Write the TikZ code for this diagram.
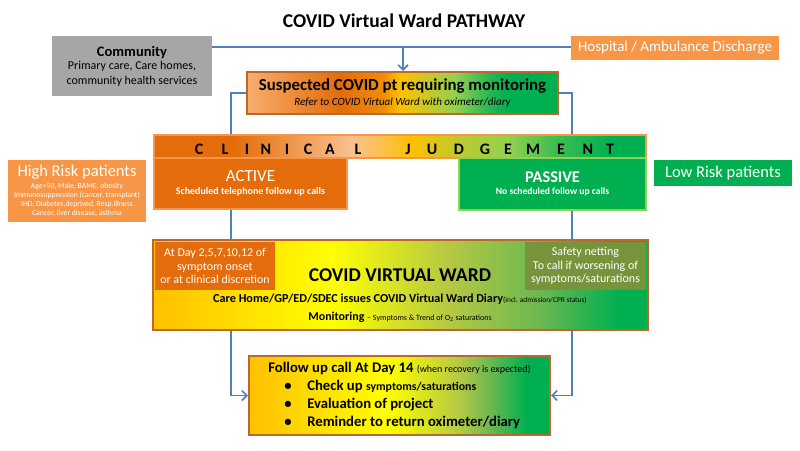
\documentclass[tikz,border=0pt]{standalone}
\usepackage{fontspec}
\setmainfont{Carlito}
\usetikzlibrary{arrows.meta,backgrounds}
\definecolor{orgdark}{HTML}{E46C0A}
\definecolor{orgmid}{HTML}{F79646}
\definecolor{orgpale}{HTML}{F8AD6E}
\definecolor{peach}{HTML}{FAC090}
\definecolor{amber}{HTML}{FFC000}
\definecolor{lime}{HTML}{92D050}
\definecolor{leaf}{HTML}{00B050}
\definecolor{olivegrn}{HTML}{B4C844}
\definecolor{greenmid}{HTML}{6CB850}
\definecolor{olivebox}{HTML}{77933C}
\definecolor{rim}{HTML}{B9692E}
\definecolor{linkblue}{HTML}{4F81BD}
\definecolor{stone}{HTML}{A6A6A6}
\newcommand\fsz[2]{\fontsize{#1}{#2}\selectfont}
\newcommand\fubullet{\hspace*{16pt}\makebox[23pt][l]{\textbullet}}
% box spans 25bp..75bp of each fill
\pgfdeclarehorizontalshading{suspfill}{100bp}{color(0bp)=(orgpale); color(25bp)=(orgpale); color(40bp)=(orgdark); color(47bp)=(orgdark!60!amber); color(49.5bp)=(amber); color(54.5bp)=(amber!45!lime); color(58.5bp)=(lime); color(64bp)=(leaf!75!lime); color(67bp)=(leaf); color(100bp)=(leaf)}
\pgfdeclarehorizontalshading{clinfill}{100bp}{color(0bp)=(orgdark); color(33bp)=(orgdark); color(45bp)=(peach); color(49bp)=(peach!40!amber); color(51bp)=(amber); color(56bp)=(amber!40!lime); color(61bp)=(lime); color(66bp)=(leaf!60!lime); color(71.5bp)=(leaf); color(100bp)=(leaf)}
\pgfdeclarehorizontalshading{vwfill}{100bp}{color(0bp)=(amber); color(25bp)=(amber); color(43bp)=(yellow); color(55bp)=(olivegrn); color(64bp)=(greenmid); color(72bp)=(leaf); color(100bp)=(leaf)}
\pgfdeclarehorizontalshading{fufill}{100bp}{color(0bp)=(amber); color(25bp)=(amber); color(48bp)=(yellow); color(60bp)=(olivegrn); color(65bp)=(greenmid); color(71bp)=(leaf); color(100bp)=(leaf)}
\begin{document}
\begin{tikzpicture}[x=1pt,y=-1pt,
  tile/.style={inner sep=0pt,align=center,text=white},
  link/.style={draw=linkblue,line width=1.6pt},
  feed/.style={link,-{Straight Barb[length=5pt,width=10pt]}}]
\useasboundingbox (0,0) rectangle (800,450);
\node[font=\fsz{19.5}{22}\bfseries,anchor=base] (title) at (404,27) {COVID Virtual Ward PATHWAY};
\node[tile,text=black,fill=stone,minimum width=160,minimum height=60,font=\fsz{12}{15}] (comm) at (132,66) {{\fsz{14.5}{15}\bfseries Community}\\[-2pt]Primary care, Care homes,\\community health services};
\node[tile,fill=orgmid,minimum width=208,minimum height=24,font=\fsz{15}{16}] (hosp) at (675,48) {Hospital / Ambulance Discharge};
\node[tile,text=black,shade,shading=suspfill,draw=rim,line width=2pt,minimum width=311,minimum height=42,font=\fsz{11}{14.3}] (susp) at (402.5,93) {{\fsz{16.8}{18}\bfseries Suspected COVID pt requiring monitoring}\\{\itshape Refer to COVID Virtual Ward with oximeter/diary}};
% clinical judgement bar
\node[tile,shade,shading=clinfill,draw=orgmid,line width=1.5pt,minimum width=492,minimum height=23] (clin) at (400,146.5) {};
\foreach \x/\ch [count=\i] in {199/C,225/L,247/I,266/N,287/I,308/C,330/A,358/L,408/J,432/U,459/D,485/G,508/E,533/M,561/E,588/N,610/T}
  \node[font=\fsz{16}{16}\bfseries,anchor=base] (cj\i) at (\x,154) {\ch};
\node[tile,fill=orgdark,draw=orgmid,line width=1.5pt,minimum width=193,minimum height=51,font=\fsz{10}{12.7}\bfseries] (act) at (250.5,183.5) {{\fsz{17}{18}\mdseries ACTIVE}\\Scheduled telephone follow up calls};
\node[tile,fill=leaf,draw=lime,line width=2pt,minimum width=187,minimum height=52,font=\fsz{9.6}{12.4}\bfseries] (pas) at (552.5,184) {{\fsz{16.3}{17}PASSIVE}\\No scheduled follow up calls};
\node[tile,fill=orgmid,minimum width=138,minimum height=62,font=\fsz{7.7}{9}] (high) at (77,191) {{\fsz{16.5}{17}High Risk patients}\\[3pt]Age>50, Male, BAME, obesity\\Immunosuppression (cancer, transplant)\\IHD, Diabetes,deprived, Resp.illness\\Cancer, liver disease, asthma};
\node[tile,fill=leaf,minimum width=138,minimum height=26,font=\fsz{16.5}{17}] (low) at (723,173) {Low Risk patients};
% virtual ward
\node[tile,shade,shading=vwfill,draw=rim,line width=2pt,minimum width=495,minimum height=90] (vw) at (400.5,285) {};
\node[tile,fill=orgdark,minimum width=120,minimum height=48,font=\fsz{12}{13.5}] (onset) at (215,266) {At Day 2,5,7,10,12 of\\symptom onset\\or at clinical discretion};
\node[tile,fill=olivebox,minimum width=121,minimum height=48,font=\fsz{12}{13.5}] (safety) at (585.5,266) {Safety netting\\To call if worsening of\\symptoms/saturations};
\node[font=\fsz{19.5}{20}\bfseries,anchor=base] (vwname) at (400,281) {COVID VIRTUAL WARD};
\node[font=\fsz{12.2}{13}\bfseries,anchor=base] (diary) at (400,302) {Care Home/GP/ED/SDEC issues COVID Virtual Ward Diary{\fsz{7.4}{8}\mdseries (incl. admission/CPR status)}};
\node[font=\fsz{12}{13}\bfseries,anchor=base] (monitor) at (400,320) {Monitoring {\fsz{8}{9}\mdseries -- Symptoms \& Trend of O\textsubscript{2} saturations}};
% follow up
\node[tile,text=black,shade,shading=fufill,draw=rim,line width=2pt,minimum width=301,minimum height=79,align=left,font=\fsz{14.7}{18}\bfseries] (fu) at (399.5,395.5) {Follow up call At Day 14 {\fsz{10}{10}\mdseries(when recovery is expected)}\\
\fubullet Check up {\fsz{11.8}{12}symptoms/saturations}\\
\fubullet Evaluation of project\\
\fubullet Reminder to return oximeter/diary};
\begin{scope}[on background layer]
\fill[white] (0,0) rectangle (800,450);
\coordinate (split) at (403,47);
\draw[link] (comm.east |- split) -- (hosp.west |- split);
\draw[feed] (split) -- (split |- susp.north);
\draw[feed] (susp.west) -- ++(-15,0) |- (fu.west);
\draw[feed] (susp.east) -- ++(13,0) |- (fu.east);
\end{scope}
\end{tikzpicture}
\end{document}
